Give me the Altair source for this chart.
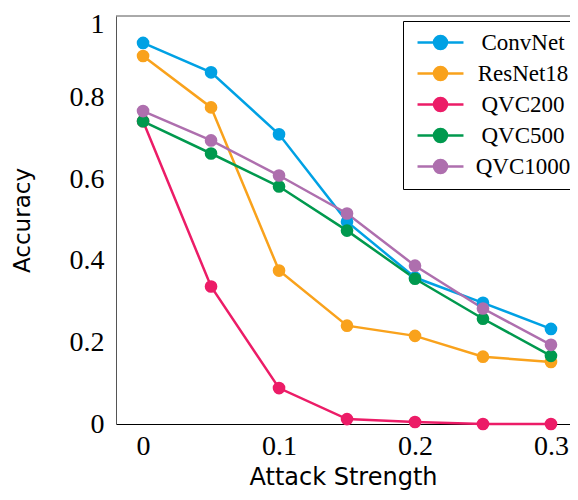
import altair as alt
import pandas as pd

attack = [0, 0.05, 0.1, 0.15, 0.2, 0.25, 0.3]
models = ["ConvNet", "ResNet18", "QVC200", "QVC500", "QVC1000"]
colors = ["#00a1e4", "#f9a21c", "#ec1c67", "#00994e", "#ae6fae"]
convnet = [0.934, 0.862, 0.710, 0.496, 0.359, 0.297, 0.233]
resnet18 = [0.902, 0.776, 0.376, 0.241, 0.216, 0.165, 0.152]
qvc200 = [0.742, 0.337, 0.088, 0.012, 0.005, 0.0, 0.0]
qvc500 = [0.742, 0.663, 0.582, 0.474, 0.356, 0.258, 0.167]
qvc1000 = [0.767, 0.695, 0.609, 0.516, 0.388, 0.283, 0.194]
y_ticks = [0, 0.2, 0.4, 0.6, 0.8, 1]
x_ticks = [0, 0.1, 0.2, 0.3]

series = [convnet, resnet18, qvc200, qvc500, qvc1000]
rows = []
for m, vals in zip(models, series):
    for a, v in zip(attack, vals):
        rows.append({"Attack Strength": a, "Accuracy": v, "Model": m})
df = pd.DataFrame(rows)

xscale = alt.Scale(domain=[-0.0199, 0.314], nice=False, zero=False)
yscale = alt.Scale(domain=[0, 1], nice=False)
cscale = alt.Scale(domain=models, range=colors)

# line with a dot, in a box 8 units wide and ~2.3 high
legend_path = ("M-4,0L4,0M-1.13,0A1.13,1.13,0,1,1,1.13,0"
               "A1.13,1.13,0,1,1,-1.13,0Z")

x_enc = alt.X("Attack Strength:Q", scale=xscale,
              axis=alt.Axis(values=x_ticks, format=".1~f", ticks=False, grid=False,
                            domainColor="#000000", labelFont="Liberation Serif",
                            labelFontSize=28, labelColor="#000", labelPadding=8,
                            title="Attack Strength", titleFont="DejaVu Sans",
                            titleFontSize=24, titleFontWeight="normal", titleColor="#000",
                            titleY=60, titleBaseline="alphabetic"))
y_enc = alt.Y("Accuracy:Q", scale=yscale,
              axis=alt.Axis(values=y_ticks, format=".1~f", ticks=False, grid=False,
                            domainColor="#555555", labelFont="Liberation Serif",
                            labelFontSize=28, labelColor="#000", labelPadding=12,
                            labelOffset={"condition": {"test": "datum.value == 1", "value": 8},
                                         "value": 0},
                            title="Accuracy", titleFont="DejaVu Sans",
                            titleFontSize=23, titleFontWeight="normal", titleColor="#000",
                            titleX=-94, titleY=204, titleAngle=-90,
                            titleBaseline="middle", titleAlign="center"))

legend = alt.Legend(title=None, orient="none", legendX=287, legendY=5,
                    strokeColor="#000", fillColor="#fff", padding=10,
                    symbolType=legend_path, symbolSize=132, symbolStrokeWidth=2.5,
                    symbolOpacity=1, symbolOffset=16,
                    labelFont="Liberation Serif", labelFontSize=23, labelColor="#000",
                    labelAlign="center", labelOffset=71, rowPadding=7)

base = alt.Chart(df)
lines = base.mark_line(strokeWidth=2.5).encode(
    x=x_enc, y=y_enc,
    stroke=alt.Stroke("Model:N", scale=cscale, legend=legend, sort=models),
    order=alt.Order("Attack Strength:Q"),
)
points = base.mark_point(filled=True, size=160, opacity=1).encode(
    x=x_enc, y=y_enc,
    fill=alt.Fill("Model:N", scale=cscale, legend=legend, sort=models),
)
top = alt.Chart(pd.DataFrame({"Accuracy": [1]})).mark_rule(
    color="#555555", strokeWidth=1).encode(y=alt.Y("Accuracy:Q", scale=yscale))

chart = alt.layer(lines, points, top).properties(
    width=454, height=408,
    autosize=alt.AutoSizeParams(type="none"),
    padding={"left": 108, "top": 8, "right": 0, "bottom": 68},
).configure_view(stroke=None)

chart.save("out.html", embed_options={"renderer": "svg", "actions": False})
